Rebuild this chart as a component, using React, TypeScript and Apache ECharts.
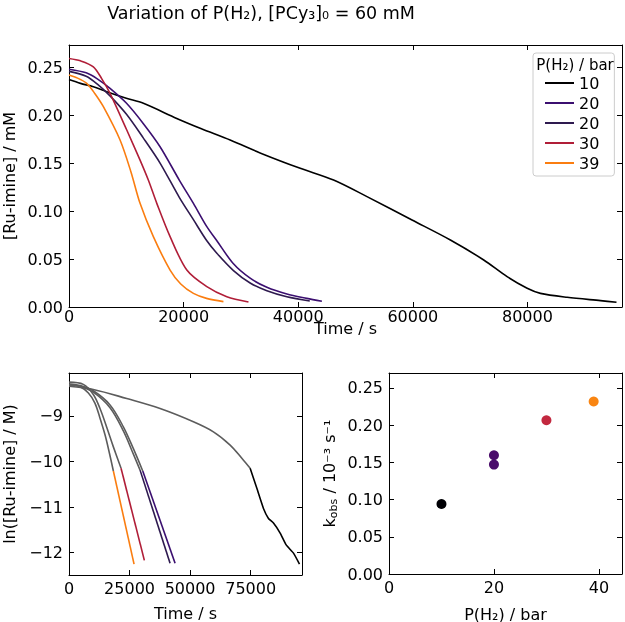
import React, { useEffect, useRef } from "react";
import * as echarts from "echarts";

const FONT = "DejaVu Sans";

// ---- Top panel: [Ru-imine] / mM vs time ----
const seriesNames = ["10", "20", "20 ", "30", "39"];
const lineColors = ["#000000", "#3b0f70", "#2e1a4f", "#b01e38", "#fa7d10"];

const t10 = [0, 2000, 4250, 6580, 10000, 12980, 18800, 23000, 28120, 34000, 40350, 46170, 52000, 59860, 66550, 72370, 76450, 79950, 82270, 86930, 92750, 95540];
const v10 = [0.237, 0.233, 0.2295, 0.2243, 0.2175, 0.2122, 0.1965, 0.186, 0.174, 0.159, 0.1445, 0.1323, 0.115, 0.0906, 0.0698, 0.049, 0.0316, 0.0195, 0.0142, 0.0101, 0.0066, 0.0049];

const t20a = [0, 3000, 5000, 7160, 10000, 12980, 15890, 19270, 21710, 24050, 25800, 28700, 31610, 34530, 38020, 41500, 44130];
const v20a = [0.2478, 0.244, 0.2375, 0.2278, 0.2125, 0.191, 0.167, 0.132, 0.108, 0.0837, 0.069, 0.045, 0.03, 0.0205, 0.0135, 0.009, 0.006];

const t20b = [0, 3000, 5000, 7160, 10000, 12980, 15890, 19270, 21710, 24050, 25800, 28700, 31610, 34530, 38020, 42020];
const v20b = [0.2455, 0.2405, 0.232, 0.22, 0.201, 0.176, 0.15, 0.114, 0.091, 0.069, 0.056, 0.038, 0.025, 0.017, 0.0107, 0.0063];

const t30 = [0, 2000, 4250, 5700, 7160, 10080, 12400, 13860, 15320, 17640, 20560, 24050, 27540, 31320];
const v30 = [0.259, 0.2565, 0.2503, 0.238, 0.2226, 0.1844, 0.153, 0.132, 0.108, 0.0733, 0.0385, 0.0212, 0.0107, 0.0052];

const t39 = [0, 1500, 3090, 4500, 6000, 8910, 10800, 12400, 14720, 17640, 19500, 21710, 24000, 26950];
const v39 = [0.2417, 0.2385, 0.233, 0.2225, 0.2087, 0.174, 0.141, 0.108, 0.0733, 0.0385, 0.024, 0.0142, 0.009, 0.0056];

// ---- Bottom-left panel: ln([Ru-imine] / M) vs time (grey = early part, colour = fitted tail) ----
const lnGrey10T = [0, 10040, 23840, 37600, 51360, 59620, 66530, 71360, 74790];
const lnGrey10V = [-8.35, -8.42, -8.62, -8.84, -9.13, -9.35, -9.64, -9.93, -10.15];
const lnFit10T = [74790, 77560, 80290, 82360, 84420, 87180, 89660, 92680, 95160];
const lnFit10V = [-10.15, -10.59, -11.03, -11.25, -11.35, -11.57, -11.83, -12.01, -12.25];

const lnGrey20aT = [0, 5000, 10040, 16940, 22440, 26580, 30450];
const lnGrey20aV = [-8.3, -8.34, -8.45, -8.76, -9.24, -9.72, -10.21];
const lnFit20aT = [30450, 43800];
const lnFit20aV = [-10.21, -12.23];

const lnGrey20bT = [0, 5000, 10040, 16940, 22440, 26580, 29340];
const lnGrey20bV = [-8.31, -8.36, -8.48, -8.82, -9.33, -9.84, -10.19];
const lnFit20bT = [29340, 41730];
const lnFit20bV = [-10.19, -12.23];

const lnGrey30T = [0, 5900, 10040, 12800, 15570, 18320, 21490];
const lnGrey30V = [-8.26, -8.31, -8.53, -8.84, -9.25, -9.68, -10.15];
const lnFit30T = [21490, 31120];
const lnFit30V = [-10.15, -12.17];

const lnGrey39T = [0, 4500, 8000, 10700, 12800, 14900, 16700, 18320];
const lnGrey39V = [-8.33, -8.36, -8.5, -8.72, -9.05, -9.42, -9.82, -10.21];
const lnFit39T = [18320, 26860];
const lnFit39V = [-10.21, -12.25];

// ---- Bottom-right panel: k_obs vs P(H2) ----
const pressures = [10, 20, 20, 30, 39];
const kobs = [0.094, 0.1595, 0.147, 0.2065, 0.2317];
const dotColors = ["#000004", "#4a0c6b", "#4a0c6b", "#c2283f", "#f98512"];

// ticks
const topXTicks = [0, 20000, 40000, 60000, 80000];
const topYTicks = [0, 0.05, 0.1, 0.15, 0.2, 0.25];
const lnXTicks = [0, 25000, 50000, 75000];
const lnYTicks = [-12, -11, -10, -9];
const kXTicks = [0, 20, 40];
const kYTicks = [0, 0.05, 0.1, 0.15, 0.2, 0.25];

const zip = (a: number[], b: number[]) => a.map((x, i) => [x, b[i]]);
const minus = (v: number) => (v < 0 ? "\u2212" + Math.abs(v) : String(v));

const txt = { fontSize: 16, fontFamily: FONT, color: "#000" };

function axis(
  kind: "x" | "y",
  gridIndex: number,
  position: string,
  min: number,
  max: number,
  ticks: number[],
  labels: boolean,
  formatter?: (v: number) => string,
  name?: string,
  nameGap?: number,
  extra?: any,
  labelExtra?: any
) {
  return {
    type: "value",
    gridIndex,
    position,
    min,
    max,
    name: name || "",
    nameLocation: "middle",
    nameGap: nameGap || 0,
    nameMoveOverlap: false,
    nameTextStyle: { ...txt, ...(extra || {}) },
    axisLine: { show: true, onZero: false, lineStyle: { color: "#000", width: 1 } },
    axisTick: {
      show: true,
      inside: true,
      length: 5,
      customValues: ticks,
      lineStyle: { color: "#000", width: 1 },
    },
    axisLabel: {
      show: labels,
      customValues: ticks,
      margin: kind === "x" ? 5 : 6,
      ...txt,
      formatter: formatter || ((v: number) => String(v)),
      ...(labelExtra || {}),
    },
    splitLine: { show: false },
  };
}

export default function App() {
  const ref = useRef<HTMLDivElement>(null);
  useEffect(() => {
    if (!ref.current) return;
    const chart = echarts.init(ref.current, null, { renderer: "svg" });

    const topData = [zip(t10, v10), zip(t20a, v20a), zip(t20b, v20b), zip(t30, v30), zip(t39, v39)];
    const lnGrey = [
      zip(lnGrey10T, lnGrey10V),
      zip(lnGrey20aT, lnGrey20aV),
      zip(lnGrey20bT, lnGrey20bV),
      zip(lnGrey30T, lnGrey30V),
      zip(lnGrey39T, lnGrey39V),
    ];
    const lnFit = [
      zip(lnFit10T, lnFit10V),
      zip(lnFit20aT, lnFit20aV),
      zip(lnFit20bT, lnFit20bV),
      zip(lnFit30T, lnFit30V),
      zip(lnFit39T, lnFit39V),
    ];

    const series: any[] = [];
    topData.forEach((d, i) => {
      series.push({
        type: "line",
        name: seriesNames[i],
        xAxisIndex: 0,
        yAxisIndex: 0,
        data: d,
        symbol: "none",
        showSymbol: false,
        smooth: 0.3,
        silent: true,
        lineStyle: { color: lineColors[i], width: 1.6 },
        itemStyle: { color: lineColors[i] },
        z: 2 + i,
      });
    });
    lnGrey.forEach((d) => {
      series.push({
        type: "line",
        xAxisIndex: 2,
        yAxisIndex: 2,
        data: d,
        symbol: "none",
        showSymbol: false,
        smooth: 0.35,
        silent: true,
        lineStyle: { color: "#5c5c5c", width: 1.6 },
        z: 2,
      });
    });
    lnFit.forEach((d, i) => {
      series.push({
        type: "line",
        xAxisIndex: 2,
        yAxisIndex: 2,
        data: d,
        symbol: "none",
        showSymbol: false,
        smooth: 0.15,
        silent: true,
        lineStyle: { color: lineColors[i], width: 1.6 },
        z: 3,
      });
    });
    series.push({
      type: "scatter",
      xAxisIndex: 4,
      yAxisIndex: 4,
      data: zip(pressures, kobs),
      symbol: "circle",
      symbolSize: 10,
      silent: true,
      itemStyle: {
        opacity: 1,
        color: (p: any) => dotColors[p.dataIndex],
      },
    });

    const fix2 = (v: number) => v.toFixed(2);
    const g = { containLabel: false, outerBoundsMode: "none" };

    chart.setOption({
      animation: false,
      grid: [
        { left: 69, top: 45, width: 553, height: 262, ...g },
        { left: 69, top: 373, width: 233, height: 202, ...g },
        { left: 389, top: 373, width: 233, height: 201, ...g },
      ],
      xAxis: [
        axis("x", 0, "bottom", 0, 96500, topXTicks, true, undefined, "Time / s", 15, { lineHeight: 12 }, { lineHeight: 12, margin: 3 }),
        axis("x", 0, "top", 0, 96500, topXTicks, false),
        axis("x", 1, "bottom", 0, 96200, lnXTicks, true, undefined, "Time / s", 30),
        axis("x", 1, "top", 0, 96200, lnXTicks, false),
        axis("x", 2, "bottom", 0, 44.4, kXTicks, true, undefined, "P(H\u2082) / bar", 32),
        axis("x", 2, "top", 0, 44.4, kXTicks, false),
      ],
      yAxis: [
        axis("y", 0, "left", 0, 0.273, topYTicks, true, fix2, "[Ru-imine] / mM", 52),
        axis("y", 0, "right", 0, 0.273, topYTicks, false),
        axis("y", 1, "left", -12.49, -8.06, lnYTicks, true, minus, "ln([Ru-imine] / M)", 52),
        axis("y", 1, "right", -12.49, -8.06, lnYTicks, false),
        axis("y", 2, "left", 0, 0.27, kYTicks, true, fix2, "{a|k}{b|obs}{a| / 10\u207B\u00B3 s\u207B\u00B9}", 50, {
          rich: {
            a: { fontSize: 16, fontFamily: FONT, color: "#000", lineHeight: 20 },
            b: { fontSize: 11, fontFamily: FONT, color: "#000", lineHeight: 11, verticalAlign: "bottom" },
          },
        }),
        axis("y", 2, "right", 0, 0.27, kYTicks, false),
      ],
      legend: {
        show: true,
        data: seriesNames.map((n, i) => ({ name: n, icon: "rect", itemStyle: { color: lineColors[i] } })),
        left: 533,
        top: 53,
        orient: "vertical",
        padding: [22, 15, 5, 12],
        itemWidth: 29,
        itemHeight: 2,
        itemGap: 4,
        itemTextGap: 8,
        selectedMode: false,
        backgroundColor: "rgba(255,255,255,0.85)",
        borderColor: "#cccccc",
        borderWidth: 1,
        borderRadius: 3,
        textStyle: { fontSize: 16, fontFamily: FONT, color: "#000", lineHeight: 16 },
        formatter: (n: string) => n.trim(),
        z: 10,
      },
      graphic: [
        {
          type: "text",
          x: 261,
          y: 13,
          z: 100,
          style: {
            text: "Variation of P(H\u2082), [PCy\u2083]\u2080 = 60 mM",
            fontSize: 17.5,
            fontFamily: FONT,
            fill: "#000",
            align: "center",
            verticalAlign: "middle",
            textAlign: "center",
            textVerticalAlign: "middle",
          },
        },
        {
          type: "text",
          x: 575,
          y: 65,
          z: 100,
          style: {
            text: "P(H\u2082) / bar",
            fontSize: 15,
            fontFamily: FONT,
            fill: "#000",
            align: "center",
            verticalAlign: "middle",
            textAlign: "center",
            textVerticalAlign: "middle",
          },
        },
      ],
      series,
    });
    return () => chart.dispose();
  }, []);
  return <div ref={ref} style={{ position: "fixed", left: 0, top: 0, width: 625, height: 622 }} />;
}
